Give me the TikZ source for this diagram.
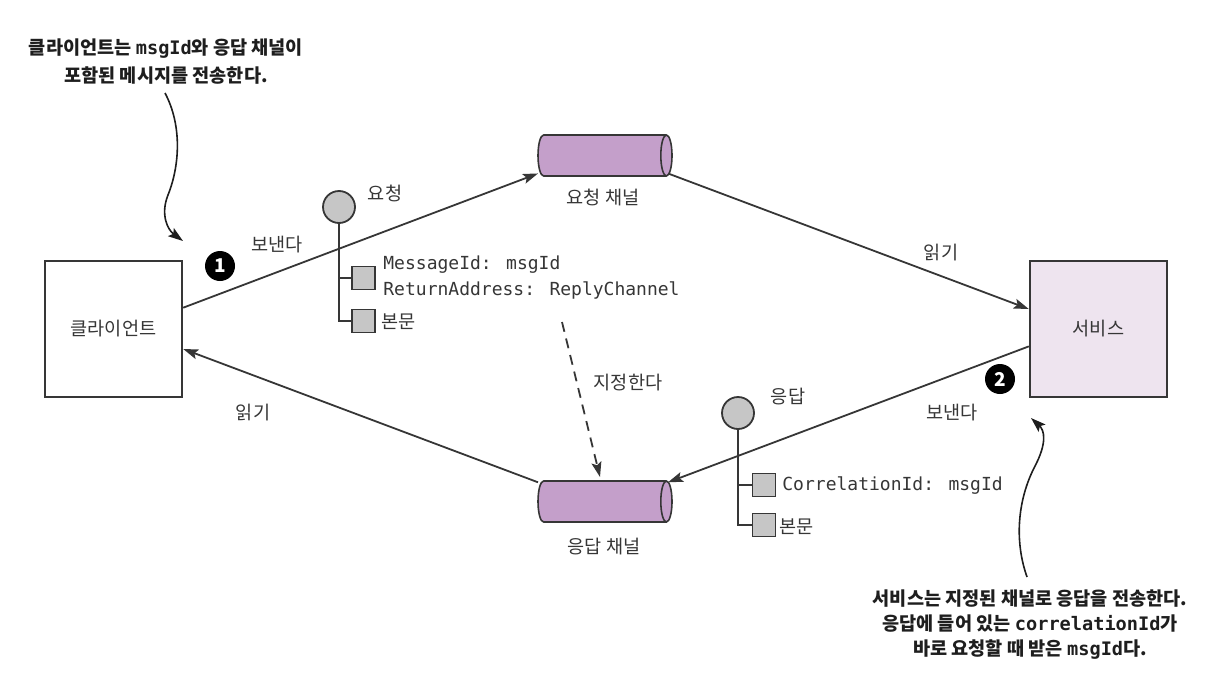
\documentclass[tikz,border=0pt]{standalone}
\usepackage{fontspec}
\setmainfont{Noto Sans CJK KR}
\newfontfamily\monof{DejaVu Sans Mono}
\usetikzlibrary{arrows.meta}
\definecolor{ink}{HTML}{363636}
\definecolor{notecol}{HTML}{1E1E1E}
\definecolor{chanfill}{HTML}{C49FCA}
\definecolor{svcfill}{HTML}{EEE4EF}
\definecolor{gfill}{HTML}{C6C6C6}
\begin{document}
\begin{tikzpicture}[x=0.5pt,y=-0.5pt,
  every node/.style={text=ink, font=\fontsize{9.3}{11}\selectfont},
  box/.style={draw=ink, line width=1.2pt, minimum width=68.5pt, minimum height=68pt, inner sep=0},
  chanbox/.style={minimum width=67pt, minimum height=20.5pt, inner sep=0, outer sep=0},
  chanline/.style={draw=ink, fill=chanfill, line width=0.8pt},
  conn/.style={draw=ink, line width=0.9pt, -{Stealth[length=7.5pt,width=5pt,inset=1.5pt]}},
  curvy/.style={draw=notecol, line width=0.8pt, -{Stealth[length=7.5pt,width=5pt,inset=1.5pt]}},
  badge/.style={circle, fill=black, text=white, font=\bfseries\fontsize{9.5}{10}\selectfont, minimum size=15pt, inner sep=0},
  msgc/.style={circle, draw=ink, fill=gfill, line width=0.9pt, minimum size=16pt, inner sep=0},
  part/.style={draw=ink, fill=gfill, line width=0.9pt, minimum size=11.5pt, inner sep=0},
  tree/.style={draw=ink, line width=0.9pt},
  lbl/.style={anchor=west, inner sep=0},
  mono/.style={anchor=west, inner sep=0, align=left, font=\monof\fontsize{9}{13}\selectfont},
  note/.style={text=notecol, align=center, inner sep=0}
]
\path[use as bounding box] (0,0) rectangle (1219,685);

% main boxes
\node[box] (client) at (113.5,329) {클라이언트};
\node[box, fill=svcfill] (svc) at (1098.5,329) {서비스};

% channels
\node[chanbox] (reqch) at (605,155.5) {};
\node[chanbox] (repch) at (605,501.5) {};
\foreach \c in {reqch,repch}{
  \filldraw[chanline] ([xshift=2.8pt]\c.north west) -- ([xshift=-2.8pt]\c.north east)
    arc[start angle=90,end angle=-90,x radius=2.8pt,y radius=10.25pt]
    -- ([xshift=2.8pt]\c.south west)
    arc[start angle=270,end angle=90,x radius=2.8pt,y radius=10.25pt] -- cycle;
  \draw[chanline, fill=none] ([xshift=-2.8pt]\c.north east)
    arc[start angle=90,end angle=270,x radius=2.8pt,y radius=10.25pt];
}
\node (reqlbl) at (603,197) {요청 채널};
\node (replbl) at (604,547) {응답 채널};

% connectors
\draw[conn] (client.17) -- (reqch.195);
\draw[conn] ([xshift=-2pt]reqch.345) -- (svc.164);
\draw[conn] (svc.194) -- ([xshift=-2pt]repch.16);
\draw[conn] (repch.164) -- (client.344);

% connector labels
\node (send1) at (277,245) {보낸다};
\node (read1) at (941,253) {읽기};
\node (read2) at (253,413) {읽기};
\node (send2) at (952,413) {보낸다};
\node[badge] (b1) at (220,266) {1};
\node[badge] (b2) at (1000,379) {2};

% request message
\node[msgc] (msgA) at (339,207) {};
\node (msgAlbl) at (385,193) {요청};
\node[part] (pA1) at (363.5,278) {};
\node[part] (pA2) at (363.5,321) {};
\draw[tree] (msgA.south) -- (msgA.south |- pA2.west) -- (pA2.west);
\draw[tree] (msgA.south |- pA1.west) -- (pA1.west);
\node[mono] (tA1) at (383,278) {MessageId: msgId\\ReturnAddress: ReplyChannel};
\node[lbl] (tA2) at (381,322) {본문};

% reply message
\node[msgc] (msgB) at (738,413) {};
\node (msgBlbl) at (788,397) {응답};
\node[part] (pB1) at (764,485) {};
\node[part] (pB2) at (764,525) {};
\draw[tree] (msgB.south) -- (msgB.south |- pB2.west) -- (pB2.west);
\draw[tree] (msgB.south |- pB1.west) -- (pB1.west);
\node[mono] (tB1) at (782,486) {CorrelationId: msgId};
\node[lbl] (tB2) at (779,527) {본문};

% dashed "assign" arrow
\coordinate (dStart) at (562,322);
\draw[conn, dash pattern=on 5pt off 3.5pt] (dStart) -- ([xshift=-2.5pt,yshift=2pt]repch.north);
\node (assign) at (628,383) {지정한다};

% annotations
\node[note, font=\bfseries\fontsize{9.3}{14}\selectfont] (noteA) at (166,61.5)
  {클라이언트는 {\monof msgId}와 응답 채널이\\포함된 메시지를 전송한다.};
\coordinate (cA) at (165,93);
\coordinate (tipA) at (183,241);
\draw[curvy] (cA) .. controls (182,125) and (180,165) .. (168,195)
  .. controls (160,215) and (168,230) .. (tipA);

\node[note, font=\bfseries\fontsize{9.3}{12.5}\selectfont] (noteB) at (1030,625)
  {서비스는 지정된 채널로 응답을 전송한다.\\응답에 들어 있는 {\monof correlationId}가\\바로 요청할 때 받은 {\monof msgId}다.};
\coordinate (cB) at (1027,577);
\coordinate (tipB) at (1031,418);
\draw[curvy] (cB) .. controls (1014,540) and (1018,500) .. (1034,468)
  .. controls (1048,442) and (1044,430) .. (tipB);
\end{tikzpicture}
\end{document}
